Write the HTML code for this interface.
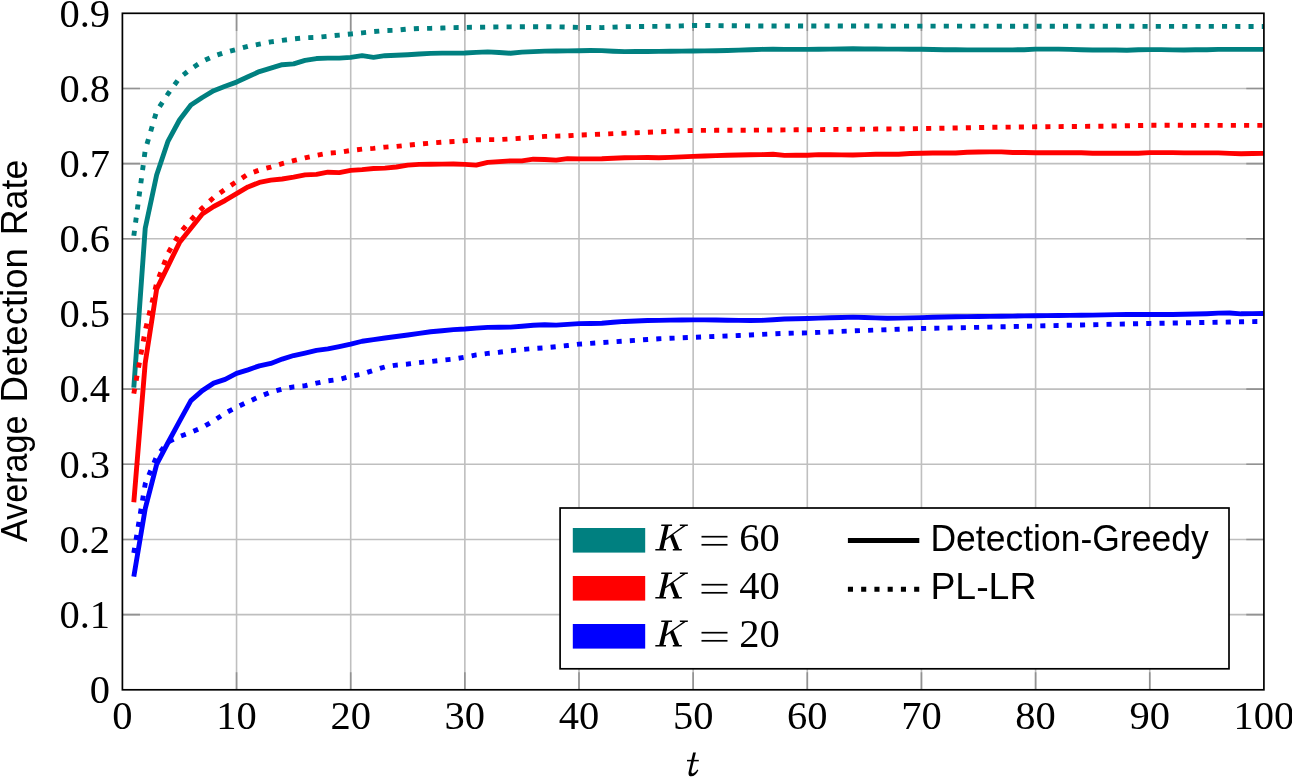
<!DOCTYPE html>
<html><head><meta charset="utf-8"><style>html,body{margin:0;padding:0;background:#fff;overflow:hidden;font-family:"Liberation Sans",sans-serif}svg{display:block;will-change:transform}</style></head>
<body>
<svg width="1292" height="777" viewBox="0 0 1292 777">
<defs><clipPath id="clip"><rect x="122.4" y="13.3" width="1141.50" height="676.50"/></clipPath></defs>
<rect width="1292" height="777" fill="#fff"/>
<path d="M236.55,13.30V689.80M350.70,13.30V689.80M464.85,13.30V689.80M579.00,13.30V689.80M693.15,13.30V689.80M807.30,13.30V689.80M921.45,13.30V689.80M1035.60,13.30V689.80M1149.75,13.30V689.80M122.40,614.63H1263.90M122.40,539.47H1263.90M122.40,464.30H1263.90M122.40,389.13H1263.90M122.40,313.97H1263.90M122.40,238.80H1263.90M122.40,163.63H1263.90M122.40,88.47H1263.90" stroke="#bfbfbf" stroke-width="1.6" fill="none"/>
<path d="M236.55,689.80v-17.6M236.55,13.30v17.6M350.70,689.80v-17.6M350.70,13.30v17.6M464.85,689.80v-17.6M464.85,13.30v17.6M579.00,689.80v-17.6M579.00,13.30v17.6M693.15,689.80v-17.6M693.15,13.30v17.6M807.30,689.80v-17.6M807.30,13.30v17.6M921.45,689.80v-17.6M921.45,13.30v17.6M1035.60,689.80v-17.6M1035.60,13.30v17.6M1149.75,689.80v-17.6M1149.75,13.30v17.6M122.40,614.63h17.6M1263.90,614.63h-17.6M122.40,539.47h17.6M1263.90,539.47h-17.6M122.40,464.30h17.6M1263.90,464.30h-17.6M122.40,389.13h17.6M1263.90,389.13h-17.6M122.40,313.97h17.6M1263.90,313.97h-17.6M122.40,238.80h17.6M1263.90,238.80h-17.6M122.40,163.63h17.6M1263.90,163.63h-17.6M122.40,88.47h17.6M1263.90,88.47h-17.6" stroke="#929292" stroke-width="1.6" fill="none"/>
<g clip-path="url(#clip)"><path d="M133.81,235.79L145.23,150.10L156.65,111.02L168.06,93.73L179.48,77.94L190.89,68.92L202.31,61.41L213.72,56.14L225.13,52.39L236.55,49.38L247.97,46.37L259.38,44.12L270.80,41.86L282.21,40.36L293.62,38.86L305.04,37.73L316.46,37.35L327.87,36.23L339.28,35.10L350.70,33.97L362.12,32.84L373.53,31.57L384.95,30.59L396.36,30.21L407.77,29.08L419.19,28.48L430.61,28.33L442.02,28.03L453.44,27.58L464.85,27.43L476.26,27.26L487.68,27.08L499.10,26.91L510.51,26.83L521.92,26.75L533.34,26.68L544.75,26.75L556.17,26.83L567.59,27.13L579.00,27.43L590.41,27.51L601.83,27.58L613.25,27.13L624.66,26.68L636.07,26.57L647.49,26.45L658.90,26.34L670.32,26.23L681.74,25.85L693.15,25.40L704.56,25.51L715.98,25.61L727.39,25.72L738.81,25.82L750.23,25.93L761.64,25.94L773.05,25.95L784.47,25.96L795.88,25.97L807.30,25.99L818.72,26.00L830.13,26.01L841.54,26.02L852.96,26.03L864.38,26.04L875.79,26.06L887.20,26.07L898.62,26.08L910.03,26.09L921.45,26.10L932.87,26.12L944.28,26.13L955.69,26.14L967.11,26.15L978.52,26.16L989.94,26.17L1001.36,26.19L1012.77,26.20L1024.18,26.21L1035.60,26.22L1047.02,26.23L1058.43,26.24L1069.85,26.26L1081.26,26.27L1092.67,26.28L1104.09,26.29L1115.51,26.30L1126.92,26.31L1138.34,26.33L1149.75,26.34L1161.17,26.35L1172.58,26.36L1184.00,26.37L1195.41,26.38L1206.83,26.40L1218.24,26.41L1229.66,26.42L1241.07,26.43L1252.49,26.44L1263.90,26.45" stroke="#008080" stroke-width="4.9" fill="none" stroke-linejoin="round" stroke-dasharray="5.1 8.15"/><path d="M133.81,387.63L145.23,228.28L156.65,174.91L168.06,141.08L179.48,120.04L190.89,105.00L202.31,97.49L213.72,90.72L225.13,86.21L236.55,82.08L247.97,76.82L259.38,71.55L270.80,68.17L282.21,64.71L293.62,63.89L305.04,60.43L316.46,58.55L327.87,58.17L339.28,58.17L350.70,57.35L362.12,55.69L373.53,57.35L384.95,55.69L396.36,55.32L407.77,54.79L419.19,54.04L430.61,53.36L442.02,53.14L453.44,53.14L464.85,52.99L476.26,52.39L487.68,51.86L499.10,52.54L510.51,53.21L521.92,52.09L533.34,51.63L544.75,51.11L556.17,51.03L567.59,50.92L579.00,50.81L590.41,50.51L601.83,50.66L613.25,51.26L624.66,51.63L636.07,51.56L647.49,51.48L658.90,51.37L670.32,51.26L681.74,51.11L693.15,50.96L704.56,50.85L715.98,50.73L727.39,50.51L738.81,50.09L750.23,49.68L761.64,49.38L773.05,49.08L784.47,49.38L795.88,49.38L807.30,49.38L818.72,49.27L830.13,49.15L841.54,48.97L852.96,48.78L864.38,48.93L875.79,49.03L887.20,49.08L898.62,49.13L910.03,49.18L921.45,49.23L932.87,49.46L944.28,49.68L955.69,49.79L967.11,49.91L978.52,49.91L989.94,49.91L1001.36,49.91L1012.77,49.85L1024.18,49.74L1035.60,49.15L1047.02,49.15L1058.43,49.15L1069.85,49.34L1081.26,49.76L1092.67,49.98L1104.09,49.98L1115.51,49.98L1126.92,50.28L1138.34,49.68L1149.75,49.65L1161.17,49.62L1172.58,49.83L1184.00,50.02L1195.41,49.76L1206.83,49.76L1218.24,49.38L1229.66,49.38L1241.07,49.38L1252.49,49.38L1263.90,49.38" stroke="#008080" stroke-width="4.9" fill="none" stroke-linejoin="round"/><path d="M133.81,393.64L145.23,330.50L156.65,283.15L168.06,253.08L179.48,233.54L190.89,220.01L202.31,207.98L213.72,197.46L225.13,189.19L236.55,181.67L247.97,174.16L259.38,170.02L270.80,167.02L282.21,163.63L293.62,160.63L305.04,157.85L316.46,155.37L327.87,153.26L339.28,152.36L350.70,150.48L362.12,149.13L373.53,148.37L384.95,147.10L396.36,146.35L407.77,145.22L419.19,144.09L430.61,143.11L442.02,142.21L453.44,141.46L464.85,140.71L476.26,139.73L487.68,139.66L499.10,139.58L510.51,138.90L521.92,138.23L533.34,137.33L544.75,136.42L556.17,136.12L567.59,135.82L579.00,135.07L590.41,134.60L601.83,134.13L613.25,133.66L624.66,133.19L636.07,132.73L647.49,132.26L658.90,131.80L670.32,131.34L681.74,130.87L693.15,130.41L704.56,130.36L715.98,130.32L727.39,130.27L738.81,130.23L750.23,130.18L761.64,130.09L773.05,130.00L784.47,129.91L795.88,129.82L807.30,129.73L818.72,129.62L830.13,129.51L841.54,129.39L852.96,129.28L864.38,129.17L875.79,129.06L887.20,128.94L898.62,128.83L910.03,128.72L921.45,128.61L932.87,128.39L944.28,128.18L955.69,127.97L967.11,127.75L978.52,127.54L989.94,127.33L1001.36,127.20L1012.77,127.06L1024.18,126.93L1035.60,126.80L1047.02,126.70L1058.43,126.60L1069.85,126.50L1081.26,126.40L1092.67,126.30L1104.09,126.20L1115.51,125.97L1126.92,125.75L1138.34,125.52L1149.75,125.30L1161.17,125.31L1172.58,125.31L1184.00,125.32L1195.41,125.33L1206.83,125.34L1218.24,125.34L1229.66,125.35L1241.07,125.36L1252.49,125.37L1263.90,125.37" stroke="#ff0000" stroke-width="4.9" fill="none" stroke-linejoin="round" stroke-dasharray="5.1 8.15"/><path d="M133.81,502.26L145.23,362.82L156.65,289.16L168.06,265.86L179.48,242.56L190.89,228.28L202.31,214.00L213.72,206.48L225.13,200.46L236.55,193.70L247.97,186.93L259.38,182.42L270.80,180.17L282.21,179.04L293.62,177.16L305.04,174.91L316.46,174.38L327.87,172.20L339.28,172.65L350.70,170.40L362.12,169.65L373.53,168.52L384.95,168.14L396.36,167.02L407.77,165.14L419.19,164.38L430.61,164.28L442.02,164.17L453.44,164.06L464.85,164.38L476.26,165.14L487.68,162.43L499.10,161.64L510.51,160.85L521.92,160.85L533.34,159.20L544.75,159.43L556.17,160.12L567.59,158.67L579.00,158.90L590.41,158.86L601.83,158.82L613.25,158.30L624.66,157.77L636.07,157.62L647.49,157.47L658.90,157.81L670.32,157.35L681.74,156.88L693.15,156.42L704.56,156.02L715.98,155.62L727.39,155.21L738.81,155.01L750.23,154.81L761.64,154.61L773.05,154.31L784.47,155.37L795.88,155.29L807.30,155.21L818.72,154.61L830.13,154.74L841.54,154.86L852.96,154.99L864.38,154.61L875.79,154.24L887.20,154.24L898.62,154.24L910.03,153.56L921.45,153.30L932.87,153.03L944.28,153.03L955.69,153.03L967.11,152.21L978.52,152.01L989.94,151.91L1001.36,151.91L1012.77,152.43L1024.18,152.43L1035.60,152.73L1047.02,152.73L1058.43,152.73L1069.85,152.73L1081.26,152.73L1092.67,153.19L1104.09,153.19L1115.51,153.19L1126.92,153.19L1138.34,153.19L1149.75,152.58L1161.17,152.58L1172.58,152.58L1184.00,152.88L1195.41,152.88L1206.83,152.88L1218.24,152.88L1229.66,153.34L1241.07,153.79L1252.49,153.52L1263.90,153.34" stroke="#ff0000" stroke-width="4.9" fill="none" stroke-linejoin="round"/><path d="M133.81,553.00L145.23,483.84L156.65,456.41L168.06,441.98L179.48,436.49L190.89,432.43L202.31,427.47L213.72,420.70L225.13,413.19L236.55,407.17L247.97,401.91L259.38,396.65L270.80,392.14L282.21,389.13L293.62,386.88L305.04,385.75L316.46,383.12L327.87,380.86L339.28,379.36L350.70,376.35L362.12,374.10L373.53,370.34L384.95,366.96L396.36,365.08L407.77,364.03L419.19,362.67L430.61,361.55L442.02,360.19L453.44,359.07L464.85,357.19L476.26,354.93L487.68,353.43L499.10,352.30L510.51,350.80L521.92,349.52L533.34,348.54L544.75,347.79L556.17,346.66L567.59,345.54L579.00,344.18L590.41,343.39L601.83,342.59L613.25,341.80L624.66,341.03L636.07,340.27L647.49,339.52L658.90,338.77L670.32,338.28L681.74,337.79L693.15,337.32L704.56,336.86L715.98,336.39L727.39,335.93L738.81,335.46L750.23,334.94L761.64,334.42L773.05,333.90L784.47,333.37L795.88,333.02L807.30,332.91L818.72,332.40L830.13,331.89L841.54,331.39L852.96,330.88L864.38,330.48L875.79,330.08L887.20,329.68L898.62,329.28L910.03,328.87L921.45,328.47L932.87,328.25L944.28,328.02L955.69,327.79L967.11,327.56L978.52,327.33L989.94,327.09L1001.36,326.81L1012.77,326.54L1024.18,326.27L1035.60,325.99L1047.02,325.74L1058.43,325.48L1069.85,325.23L1081.26,324.97L1092.67,324.72L1104.09,324.46L1115.51,324.20L1126.92,323.95L1138.34,323.69L1149.75,323.44L1161.17,323.24L1172.58,323.03L1184.00,322.83L1195.41,322.63L1206.83,322.43L1218.24,322.23L1229.66,322.02L1241.07,321.82L1252.49,321.62L1263.90,321.48" stroke="#0000ff" stroke-width="4.9" fill="none" stroke-linejoin="round" stroke-dasharray="5.1 8.15"/><path d="M133.81,576.67L145.23,508.65L156.65,464.30L168.06,442.50L179.48,421.45L190.89,400.63L202.31,390.64L213.72,383.12L225.13,379.36L236.55,373.35L247.97,369.82L259.38,365.83L270.80,363.43L282.21,359.07L293.62,355.53L305.04,353.05L316.46,350.35L327.87,348.92L339.28,346.66L350.70,344.18L362.12,341.25L373.53,339.64L384.95,338.02L396.36,336.52L407.77,335.01L419.19,333.40L430.61,331.78L442.02,330.69L453.44,329.60L464.85,329.00L476.26,328.12L487.68,327.39L499.10,327.26L510.51,327.12L521.92,326.21L533.34,325.30L544.75,324.72L556.17,325.17L567.59,324.41L579.00,323.66L590.41,323.54L601.83,323.24L613.25,322.25L624.66,321.43L636.07,320.99L647.49,320.55L658.90,320.34L670.32,320.15L681.74,320.01L693.15,319.90L704.56,319.90L715.98,320.02L727.39,320.20L738.81,320.37L750.23,320.55L761.64,320.38L773.05,319.69L784.47,319.00L795.88,318.77L807.30,318.52L818.72,318.17L830.13,317.82L841.54,317.48L852.96,317.16L864.38,317.51L875.79,317.88L887.20,318.20L898.62,318.16L910.03,317.88L921.45,317.58L932.87,317.26L944.28,316.93L955.69,316.76L967.11,316.60L978.52,316.45L989.94,316.34L1001.36,316.23L1012.77,316.11L1024.18,315.91L1035.60,315.72L1047.02,315.61L1058.43,315.52L1069.85,315.39L1081.26,315.24L1092.67,315.08L1104.09,314.88L1115.51,314.65L1126.92,314.50L1138.34,314.54L1149.75,314.57L1161.17,314.52L1172.58,314.43L1184.00,314.22L1195.41,314.02L1206.83,313.68L1218.24,313.17L1229.66,313.06L1241.07,313.82L1252.49,313.67L1263.90,313.52" stroke="#0000ff" stroke-width="4.9" fill="none" stroke-linejoin="round"/></g>
<rect x="122.4" y="13.3" width="1141.50" height="676.50" fill="none" stroke="#000" stroke-width="1.7"/>
<g font-family="Liberation Serif" font-size="40.5" fill="#000"><text transform="translate(122.40,728.6) scale(1.0,1)" text-anchor="middle">0</text><text transform="translate(236.55,728.6) scale(1.0,1)" text-anchor="middle">10</text><text transform="translate(350.70,728.6) scale(1.0,1)" text-anchor="middle">20</text><text transform="translate(464.85,728.6) scale(1.0,1)" text-anchor="middle">30</text><text transform="translate(579.00,728.6) scale(1.0,1)" text-anchor="middle">40</text><text transform="translate(693.15,728.6) scale(1.0,1)" text-anchor="middle">50</text><text transform="translate(807.30,728.6) scale(1.0,1)" text-anchor="middle">60</text><text transform="translate(921.45,728.6) scale(1.0,1)" text-anchor="middle">70</text><text transform="translate(1035.60,728.6) scale(1.0,1)" text-anchor="middle">80</text><text transform="translate(1149.75,728.6) scale(1.0,1)" text-anchor="middle">90</text><text transform="translate(1263.90,728.6) scale(1.0,1)" text-anchor="middle">100</text><text transform="translate(110.0,703.10) scale(1.0,1)" text-anchor="end">0</text><text transform="translate(110.0,627.93) scale(1.0,1)" text-anchor="end">0.1</text><text transform="translate(110.0,552.77) scale(1.0,1)" text-anchor="end">0.2</text><text transform="translate(110.0,477.60) scale(1.0,1)" text-anchor="end">0.3</text><text transform="translate(110.0,402.43) scale(1.0,1)" text-anchor="end">0.4</text><text transform="translate(110.0,327.27) scale(1.0,1)" text-anchor="end">0.5</text><text transform="translate(110.0,252.10) scale(1.0,1)" text-anchor="end">0.6</text><text transform="translate(110.0,176.93) scale(1.0,1)" text-anchor="end">0.7</text><text transform="translate(110.0,101.77) scale(1.0,1)" text-anchor="end">0.8</text><text transform="translate(110.0,26.60) scale(1.0,1)" text-anchor="end">0.9</text></g>
<path d="M693.1,752.4 L695.9,752.4 L691.6,770.2 Q690.9,773.4 692.6,773.4 Q694.8,773.4 697.3,769.6 L698.4,770.3 Q695.4,776.3 691.3,776.3 Q687.8,776.3 688.7,771.8 Z" fill="#000"/><path d="M687,760.6H698.8" stroke="#000" stroke-width="1.5"/>
<text transform="translate(27,542.0) rotate(-90)" font-family="Liberation Sans" font-size="36.5" textLength="126.5" lengthAdjust="spacingAndGlyphs">Average</text>
<text transform="translate(27,402.6) rotate(-90)" font-family="Liberation Sans" font-size="36.5" textLength="154.5" lengthAdjust="spacingAndGlyphs">Detection</text>
<text transform="translate(27,235.2) rotate(-90)" font-family="Liberation Sans" font-size="36.5" textLength="75.5" lengthAdjust="spacingAndGlyphs">Rate</text>
<rect x="560.1" y="508" width="668.9" height="160.8" fill="#fff" stroke="#000" stroke-width="1.7"/><rect x="572.8" y="528.00" width="72.4" height="24.6" fill="#008080"/><path transform="translate(650,515.00) scale(0.05149)" fill="#000" d="M222,186L428,186Q433,200 426,214L368,214L360,214L262,662L310,662Q315,676 308,691L104,691Q99,677 106,662L180,662L285,214L218,214Q214,200 222,186ZM578,186L736,186Q739,200 730,214L690,214L455,380L568,662L618,662Q622,676 615,691L443,691Q438,677 446,662L478,662L392,430L292,497L300,462L640,214L585,214Q576,200 578,186Z"/><rect x="701.5" y="535.85" width="26" height="1.7" fill="#000"/><rect x="701.5" y="543.95" width="26" height="1.7" fill="#000"/><text transform="translate(739.3,551.20) scale(1.0,1)" font-family="Liberation Serif" font-size="40.5">60</text><rect x="572.8" y="576.00" width="72.4" height="24.6" fill="#ff0000"/><path transform="translate(650,563.00) scale(0.05149)" fill="#000" d="M222,186L428,186Q433,200 426,214L368,214L360,214L262,662L310,662Q315,676 308,691L104,691Q99,677 106,662L180,662L285,214L218,214Q214,200 222,186ZM578,186L736,186Q739,200 730,214L690,214L455,380L568,662L618,662Q622,676 615,691L443,691Q438,677 446,662L478,662L392,430L292,497L300,462L640,214L585,214Q576,200 578,186Z"/><rect x="701.5" y="583.85" width="26" height="1.7" fill="#000"/><rect x="701.5" y="591.95" width="26" height="1.7" fill="#000"/><text transform="translate(739.3,599.20) scale(1.0,1)" font-family="Liberation Serif" font-size="40.5">40</text><rect x="572.8" y="624.00" width="72.4" height="24.6" fill="#0000ff"/><path transform="translate(650,611.00) scale(0.05149)" fill="#000" d="M222,186L428,186Q433,200 426,214L368,214L360,214L262,662L310,662Q315,676 308,691L104,691Q99,677 106,662L180,662L285,214L218,214Q214,200 222,186ZM578,186L736,186Q739,200 730,214L690,214L455,380L568,662L618,662Q622,676 615,691L443,691Q438,677 446,662L478,662L392,430L292,497L300,462L640,214L585,214Q576,200 578,186Z"/><rect x="701.5" y="631.85" width="26" height="1.7" fill="#000"/><rect x="701.5" y="639.95" width="26" height="1.7" fill="#000"/><text transform="translate(739.3,647.20) scale(1.0,1)" font-family="Liberation Serif" font-size="40.5">20</text><path d="M847.9,540.5H919.3" stroke="#000" stroke-width="4.9"/><path d="M847.9,589.3H919.3" stroke="#000" stroke-width="4.9" stroke-dasharray="5.1 8.15"/><text x="930.4" y="550.9" font-family="Liberation Sans" font-size="36.5" textLength="278.3" lengthAdjust="spacingAndGlyphs">Detection-Greedy</text><text x="930.4" y="599.2" font-family="Liberation Sans" font-size="36.5" textLength="106" lengthAdjust="spacingAndGlyphs">PL-LR</text>
</svg>
</body></html>
